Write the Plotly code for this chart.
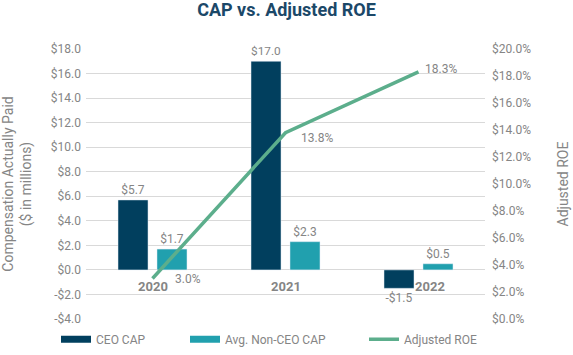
import plotly.graph_objects as go

years = ["2020", "2021", "2022"]
ceo_cap = [5.7, 17.0, -1.5]
non_ceo_cap = [1.7, 2.3, 0.5]
adj_roe = [3.0, 13.8, 18.3]
left_ticks = [-4, -2, 0, 2, 4, 6, 8, 10, 12, 14, 16, 18]
right_ticks = [0, 2, 4, 6, 8, 10, 12, 14, 16, 18, 20]

C_CEO = "#013f5e"
C_NON = "#21a0ae"
C_ROE = "#5cae8c"
GRAY = "#858585"
FONT = "Roboto"


def money(v):
    return f"-${abs(v):.1f}" if v < 0 else f"${v:.1f}"


fig = go.Figure()
fig.add_trace(go.Bar(
    x=years, y=ceo_cap, name="CEO CAP", marker_color=C_CEO,
    text=[money(v) for v in ceo_cap], textposition="outside",
    textfont=dict(color=GRAY, size=12, family=FONT), cliponaxis=False,
    showlegend=False))
fig.add_trace(go.Bar(
    x=years, y=non_ceo_cap, name="Avg. Non-CEO CAP", marker_color=C_NON,
    text=[money(v) for v in non_ceo_cap], textposition="outside",
    textfont=dict(color=GRAY, size=12, family=FONT), cliponaxis=False,
    showlegend=False))
fig.add_trace(go.Scatter(
    x=years, y=adj_roe, name="Adjusted ROE", yaxis="y2", mode="lines",
    line=dict(color=C_ROE, width=3.5), showlegend=False, cliponaxis=False))

# legend entries (wide flat swatches like the reference)
fig.add_trace(go.Scatter(x=[years[0]], y=[None], mode="lines", name="CEO CAP",
                         line=dict(color=C_CEO, width=7), legend="legend"))
fig.add_trace(go.Scatter(x=[years[0]], y=[None], mode="lines", name="Avg. Non-CEO CAP",
                         line=dict(color=C_NON, width=7), legend="legend2"))
fig.add_trace(go.Scatter(x=[years[0]], y=[None], mode="lines", name="Adjusted ROE",
                         line=dict(color=C_ROE, width=3.5), legend="legend3"))

annotations = []
# category labels sitting on the zero line (x given as category index)
cat_xshift = [0, 0, 11]
for i, (yr, xs) in enumerate(zip(years, cat_xshift)):
    annotations.append(dict(x=i, y=0, xref="x", yref="y", text=f"<b>{yr}</b>",
                            showarrow=False, yshift=-17, xshift=xs,
                            font=dict(color=GRAY, size=13, family=FONT)))
# ROE labels
roe_shift = [(20, 0), (13, -5), (4, 3)]
for i, (v, (xs, ys)) in enumerate(zip(adj_roe, roe_shift)):
    annotations.append(dict(x=i, y=v, xref="x", yref="y2", text=f"{v:.1f}%",
                            showarrow=False, xanchor="left", xshift=xs, yshift=ys,
                            font=dict(color=GRAY, size=12, family=FONT)))

leg_common = dict(orientation="h", yanchor="middle", y=-0.075, xanchor="left",
                  font=dict(color=GRAY, size=12, family=FONT),
                  bgcolor="rgba(0,0,0,0)", itemwidth=30)

fig.update_layout(
    width=573, height=355,
    margin=dict(l=86, r=88, t=49, b=36, autoexpand=False),
    paper_bgcolor="white", plot_bgcolor="white",
    font=dict(family=FONT, color=GRAY),
    title=dict(text="<b>CAP vs. Adjusted ROE</b>", x=0.5, xanchor="center",
               y=0.974, yanchor="middle", yref="container",
               font=dict(size=18, color="#1b4868", family=FONT)),
    barmode="group", bargap=0.414, bargroupgap=0.23,
    xaxis=dict(type="category", categoryorder="array", categoryarray=years,
               range=[-0.5, len(years) - 0.5],
               showticklabels=False, showgrid=False, zeroline=False,
               showline=False, ticks=""),
    yaxis=dict(range=[-4, 18], tickmode="array", tickvals=left_ticks,
               ticktext=[money(v) for v in left_ticks],
               showgrid=True, gridcolor="#d9d9d9", gridwidth=1, zeroline=False,
               tickfont=dict(size=12, color=GRAY, family=FONT), ticklabelstandoff=4,
               title=dict(text="Compensation Actually Paid<br>($ in millions)",
                          font=dict(size=14, color=GRAY, family=FONT), standoff=15),
               automargin=False),
    yaxis2=dict(range=[0, 20], tickmode="array", tickvals=right_ticks,
                ticktext=[f"${v:.1f}%" for v in right_ticks],
                overlaying="y", side="right",
                showgrid=False, zeroline=False,
                tickfont=dict(size=12, color=GRAY, family=FONT), ticklabelstandoff=6,
                title=dict(text="Adjusted ROE",
                           font=dict(size=14, color=GRAY, family=FONT), standoff=28),
                automargin=False),
    legend=dict(leg_common, x=(56 - 86) / 399),
    legend2=dict(leg_common, x=(185 - 86) / 399),
    legend3=dict(leg_common, x=(364 - 86) / 399),
    annotations=annotations,
)

fig.write_html("out.html", config={"displayModeBar": False},
               post_script="document.body.style.margin='0';")
